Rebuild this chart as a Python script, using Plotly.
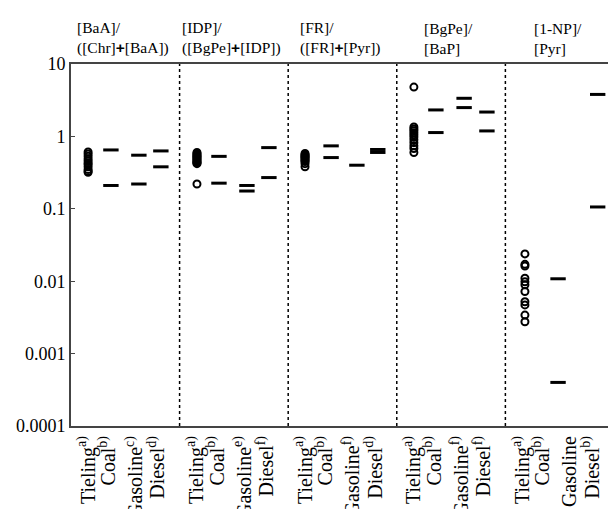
import plotly.graph_objects as go

# ---------------- data ----------------
panel_titles = [
    "[BaA]/<br>([Chr]<span style='font-family:Liberation Sans'><b>+</b></span>[BaA])",
    "[IDP]/<br>([BgPe]<span style='font-family:Liberation Sans'><b>+</b></span>[IDP])",
    "[FR]/<br>([FR]<span style='font-family:Liberation Sans'><b>+</b></span>[Pyr])",
    "[BgPe]/<br>[BaP]",
    "[1-NP]/<br>[Pyr]",
]
categories = ["Tieling", "Coal", "Gasoline", "Diesel"]
superscripts = [
    ["a)", "b)", "c)", "d)"],
    ["a)", "b)", "e)", "f)"],
    ["a)", "b)", "f)", "d)"],
    ["a)", "b)", "f)", "f)"],
    ["a)", "b)", "", "b)"],
]
tieling_vals = [
    [0.61, 0.57, 0.53, 0.49, 0.46, 0.43, 0.41, 0.38, 0.35, 0.33, 0.32],
    [0.60, 0.58, 0.56, 0.54, 0.53, 0.51, 0.50, 0.48, 0.47, 0.45, 0.44, 0.43, 0.42, 0.22],
    [0.58, 0.56, 0.54, 0.53, 0.51, 0.50, 0.48, 0.46, 0.45, 0.42, 0.38],
    [4.8, 1.35, 1.27, 1.2, 1.12, 1.05, 0.98, 0.9, 0.82, 0.74, 0.68, 0.60],
    [0.0238, 0.0171, 0.0162, 0.011, 0.0098, 0.0089, 0.0072, 0.0052, 0.0047, 0.0034, 0.00275],
]
coal_vals = [[0.65, 0.21], [0.53, 0.226], [0.74, 0.51], [2.32, 1.13], [0.0108, 0.0004]]
gasoline_vals = [[0.55, 0.22], [0.21, 0.176], [0.40], [3.36, 2.50], []]
diesel_vals = [[0.63, 0.38], [0.70, 0.27], [0.66, 0.60], [2.17, 1.19], [3.8, 0.106]]
y_ticks = [0.0001, 0.001, 0.01, 0.1, 1, 10]
y_ticktext = ["0.0001", "0.001", "0.01", "0.1", "1", "10"]

# ---------------- layout constants ----------------
FONT = "Liberation Serif, Times New Roman, Times, serif"
PANEL_W = 4
marker_offsets = [
    [0.63, 1.47, 2.50, 3.31],
    [0.64, 1.45, 2.48, 3.29],
    [0.62, 1.58, 2.53, 3.30],
    [0.63, 1.44, 2.48, 3.32],
    [0.72, 1.94, 2.45, 3.40],
]
label_offsets = [0.63, 1.38, 2.38, 3.20]

fig = go.Figure()

for p in range(len(panel_titles)):
    base = p * PANEL_W
    tv = tieling_vals[p]
    fig.add_trace(go.Scatter(
        x=[base + marker_offsets[p][0]] * len(tv), y=tv, mode="markers",
        marker=dict(symbol="circle-open", size=7, color="black",
                    line=dict(color="black", width=2)),
        showlegend=False, hoverinfo="y"))
    for ci, vals in zip([1, 2, 3], [coal_vals[p], gasoline_vals[p], diesel_vals[p]]):
        if not vals:
            continue
        fig.add_trace(go.Scatter(
            x=[base + marker_offsets[p][ci]] * len(vals), y=vals, mode="markers",
            marker=dict(symbol="line-ew", size=11, color="black",
                        line=dict(color="black", width=3)),
            showlegend=False, hoverinfo="y"))
    fig.add_annotation(
        x=base + 1.92, xref="x", y=1, yref="paper", yanchor="bottom",
        xanchor="center", align="left", text=panel_titles[p], showarrow=False,
        yshift=5, font=dict(family=FONT, size=15.5, color="black"))
    if p > 0:
        fig.add_shape(type="line", x0=base, x1=base, xref="x", y0=0, y1=1,
                      yref="paper", line=dict(color="black", width=1.5, dash="dot"))

tickvals, ticktext = [], []
for p in range(len(panel_titles)):
    for ci, cat in enumerate(categories):
        tickvals.append(p * PANEL_W + label_offsets[ci])
        s = superscripts[p][ci]
        ticktext.append(cat + (f"<sup>{s}</sup>" if s else ""))

fig.update_xaxes(
    range=[0, 19.78], tickvals=tickvals, ticktext=ticktext, tickangle=-90,
    showline=True, linecolor="#444", linewidth=2, mirror=True, ticks="",
    showgrid=False, zeroline=False, automargin=False,
    tickfont=dict(family=FONT, size=20, color="black"))
fig.update_yaxes(
    type="log", range=[-4, 1], tickvals=y_ticks, ticktext=y_ticktext,
    showline=True, linecolor="#444", linewidth=2, ticks="inside", ticklen=4,
    tickcolor="#444", showgrid=False, zeroline=False, automargin=False,
    tickfont=dict(family=FONT, size=18, color="black"))

fig.update_layout(
    width=608, height=509, margin=dict(l=71, r=0, t=64, b=83),
    plot_bgcolor="white", paper_bgcolor="white",
    font=dict(family=FONT, size=15, color="black"))

fig.write_html("out.html")
